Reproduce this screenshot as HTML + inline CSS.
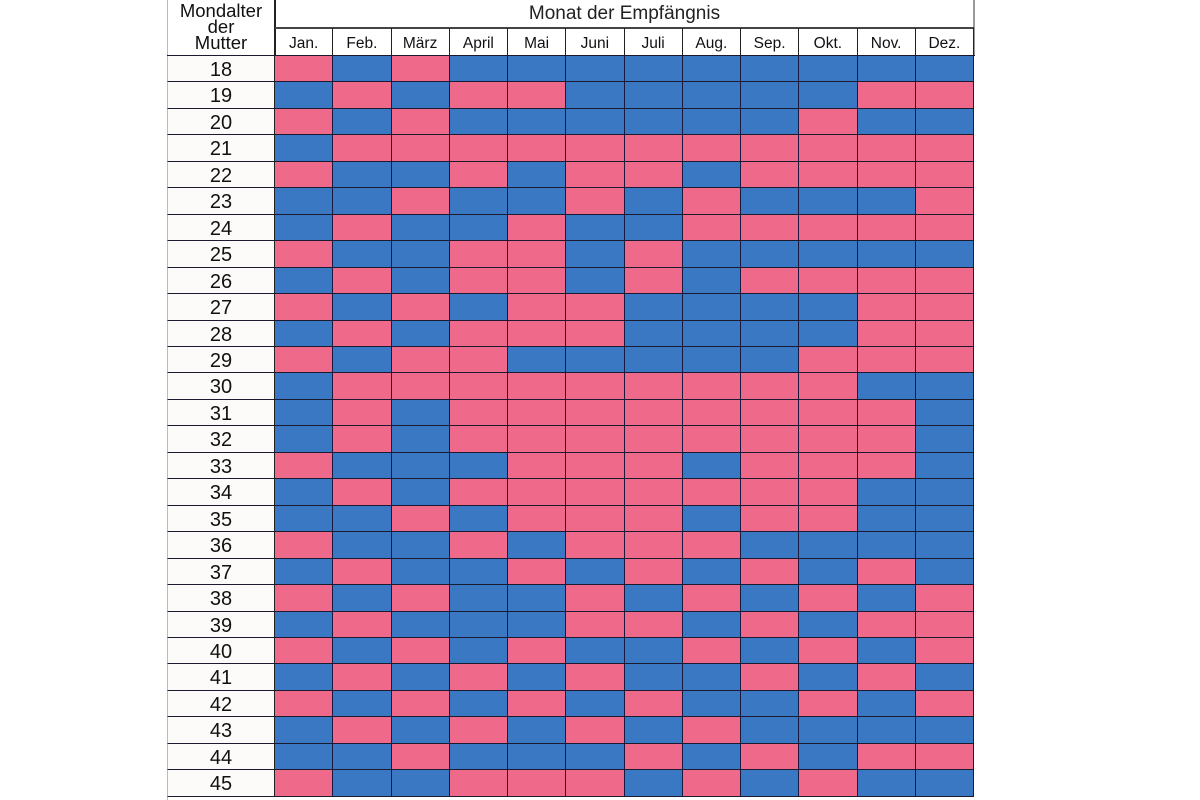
<!DOCTYPE html>
<html><head><meta charset="utf-8"><style>
body{margin:0;width:1200px;height:800px;background:#fff;position:relative;overflow:hidden;font-family:"Liberation Sans",sans-serif;color:#111}
.a{position:absolute}
#g{position:absolute;left:167px;top:55px;width:808px;display:grid;grid-template-columns:108px repeat(12,58.25px);grid-auto-rows:26.46px;border-top:1.5px solid #1a1a2e}
#g div{box-sizing:border-box;border-bottom:1.5px solid #1a1a30;border-right:1.3px solid #1a1a40}
#g .n{background:#fdfafa;text-align:center;font-size:20px;line-height:28px;border-right:1.5px solid #222;border-left:1px solid #bbb}
#g .p{background:#ef6a8a}
#g .b{background:#3b78c3}
.m{position:absolute;top:28px;height:27px;width:58.25px;text-align:center;font-size:15.5px;line-height:32px;box-sizing:border-box;border-right:1.3px solid #222}
</style></head><body>
<div class="a" style="left:167px;top:0;width:1px;height:800px;background:#bbb"></div>
<div class="a" style="left:274px;top:0;width:1.5px;height:56px;background:#222"></div>
<div class="a" style="left:973px;top:0;width:1.5px;height:56px;background:#999"></div>
<div class="a" style="left:275px;top:27px;width:699px;height:1.5px;background:#444"></div>
<div class="a" style="left:167px;top:3px;width:108px;text-align:center;font-size:18.5px;line-height:16px">Mondalter<br>der<br>Mutter</div>
<div class="a" style="left:275px;top:4px;width:699px;text-align:center;font-size:19px;line-height:20px;color:#222">Monat der Empfängnis</div>
<div class="m" style="left:275px">Jan.</div>
<div class="m" style="left:333.25px">Feb.</div>
<div class="m" style="left:391.5px">März</div>
<div class="m" style="left:449.75px">April</div>
<div class="m" style="left:508px">Mai</div>
<div class="m" style="left:566.25px">Juni</div>
<div class="m" style="left:624.5px">Juli</div>
<div class="m" style="left:682.75px">Aug.</div>
<div class="m" style="left:741px">Sep.</div>
<div class="m" style="left:799.25px">Okt.</div>
<div class="m" style="left:857.5px">Nov.</div>
<div class="m" style="left:915.75px">Dez.</div>
<div id="g">
<div class="n">18</div><div class="p"></div><div class="b"></div><div class="p"></div><div class="b"></div><div class="b"></div><div class="b"></div><div class="b"></div><div class="b"></div><div class="b"></div><div class="b"></div><div class="b"></div><div class="b"></div>
<div class="n">19</div><div class="b"></div><div class="p"></div><div class="b"></div><div class="p"></div><div class="p"></div><div class="b"></div><div class="b"></div><div class="b"></div><div class="b"></div><div class="b"></div><div class="p"></div><div class="p"></div>
<div class="n">20</div><div class="p"></div><div class="b"></div><div class="p"></div><div class="b"></div><div class="b"></div><div class="b"></div><div class="b"></div><div class="b"></div><div class="b"></div><div class="p"></div><div class="b"></div><div class="b"></div>
<div class="n">21</div><div class="b"></div><div class="p"></div><div class="p"></div><div class="p"></div><div class="p"></div><div class="p"></div><div class="p"></div><div class="p"></div><div class="p"></div><div class="p"></div><div class="p"></div><div class="p"></div>
<div class="n">22</div><div class="p"></div><div class="b"></div><div class="b"></div><div class="p"></div><div class="b"></div><div class="p"></div><div class="p"></div><div class="b"></div><div class="p"></div><div class="p"></div><div class="p"></div><div class="p"></div>
<div class="n">23</div><div class="b"></div><div class="b"></div><div class="p"></div><div class="b"></div><div class="b"></div><div class="p"></div><div class="b"></div><div class="p"></div><div class="b"></div><div class="b"></div><div class="b"></div><div class="p"></div>
<div class="n">24</div><div class="b"></div><div class="p"></div><div class="b"></div><div class="b"></div><div class="p"></div><div class="b"></div><div class="b"></div><div class="p"></div><div class="p"></div><div class="p"></div><div class="p"></div><div class="p"></div>
<div class="n">25</div><div class="p"></div><div class="b"></div><div class="b"></div><div class="p"></div><div class="p"></div><div class="b"></div><div class="p"></div><div class="b"></div><div class="b"></div><div class="b"></div><div class="b"></div><div class="b"></div>
<div class="n">26</div><div class="b"></div><div class="p"></div><div class="b"></div><div class="p"></div><div class="p"></div><div class="b"></div><div class="p"></div><div class="b"></div><div class="p"></div><div class="p"></div><div class="p"></div><div class="p"></div>
<div class="n">27</div><div class="p"></div><div class="b"></div><div class="p"></div><div class="b"></div><div class="p"></div><div class="p"></div><div class="b"></div><div class="b"></div><div class="b"></div><div class="b"></div><div class="p"></div><div class="p"></div>
<div class="n">28</div><div class="b"></div><div class="p"></div><div class="b"></div><div class="p"></div><div class="p"></div><div class="p"></div><div class="b"></div><div class="b"></div><div class="b"></div><div class="b"></div><div class="p"></div><div class="p"></div>
<div class="n">29</div><div class="p"></div><div class="b"></div><div class="p"></div><div class="p"></div><div class="b"></div><div class="b"></div><div class="b"></div><div class="b"></div><div class="b"></div><div class="p"></div><div class="p"></div><div class="p"></div>
<div class="n">30</div><div class="b"></div><div class="p"></div><div class="p"></div><div class="p"></div><div class="p"></div><div class="p"></div><div class="p"></div><div class="p"></div><div class="p"></div><div class="p"></div><div class="b"></div><div class="b"></div>
<div class="n">31</div><div class="b"></div><div class="p"></div><div class="b"></div><div class="p"></div><div class="p"></div><div class="p"></div><div class="p"></div><div class="p"></div><div class="p"></div><div class="p"></div><div class="p"></div><div class="b"></div>
<div class="n">32</div><div class="b"></div><div class="p"></div><div class="b"></div><div class="p"></div><div class="p"></div><div class="p"></div><div class="p"></div><div class="p"></div><div class="p"></div><div class="p"></div><div class="p"></div><div class="b"></div>
<div class="n">33</div><div class="p"></div><div class="b"></div><div class="b"></div><div class="b"></div><div class="p"></div><div class="p"></div><div class="p"></div><div class="b"></div><div class="p"></div><div class="p"></div><div class="p"></div><div class="b"></div>
<div class="n">34</div><div class="b"></div><div class="p"></div><div class="b"></div><div class="p"></div><div class="p"></div><div class="p"></div><div class="p"></div><div class="p"></div><div class="p"></div><div class="p"></div><div class="b"></div><div class="b"></div>
<div class="n">35</div><div class="b"></div><div class="b"></div><div class="p"></div><div class="b"></div><div class="p"></div><div class="p"></div><div class="p"></div><div class="b"></div><div class="p"></div><div class="p"></div><div class="b"></div><div class="b"></div>
<div class="n">36</div><div class="p"></div><div class="b"></div><div class="b"></div><div class="p"></div><div class="b"></div><div class="p"></div><div class="p"></div><div class="p"></div><div class="b"></div><div class="b"></div><div class="b"></div><div class="b"></div>
<div class="n">37</div><div class="b"></div><div class="p"></div><div class="b"></div><div class="b"></div><div class="p"></div><div class="b"></div><div class="p"></div><div class="b"></div><div class="p"></div><div class="b"></div><div class="p"></div><div class="b"></div>
<div class="n">38</div><div class="p"></div><div class="b"></div><div class="p"></div><div class="b"></div><div class="b"></div><div class="p"></div><div class="b"></div><div class="p"></div><div class="b"></div><div class="p"></div><div class="b"></div><div class="p"></div>
<div class="n">39</div><div class="b"></div><div class="p"></div><div class="b"></div><div class="b"></div><div class="b"></div><div class="p"></div><div class="p"></div><div class="b"></div><div class="p"></div><div class="b"></div><div class="p"></div><div class="p"></div>
<div class="n">40</div><div class="p"></div><div class="b"></div><div class="p"></div><div class="b"></div><div class="p"></div><div class="b"></div><div class="b"></div><div class="p"></div><div class="b"></div><div class="p"></div><div class="b"></div><div class="p"></div>
<div class="n">41</div><div class="b"></div><div class="p"></div><div class="b"></div><div class="p"></div><div class="b"></div><div class="p"></div><div class="b"></div><div class="b"></div><div class="p"></div><div class="b"></div><div class="p"></div><div class="b"></div>
<div class="n">42</div><div class="p"></div><div class="b"></div><div class="p"></div><div class="b"></div><div class="p"></div><div class="b"></div><div class="p"></div><div class="b"></div><div class="b"></div><div class="p"></div><div class="b"></div><div class="p"></div>
<div class="n">43</div><div class="b"></div><div class="p"></div><div class="b"></div><div class="p"></div><div class="b"></div><div class="p"></div><div class="b"></div><div class="p"></div><div class="b"></div><div class="b"></div><div class="b"></div><div class="b"></div>
<div class="n">44</div><div class="b"></div><div class="b"></div><div class="p"></div><div class="b"></div><div class="b"></div><div class="b"></div><div class="p"></div><div class="b"></div><div class="p"></div><div class="b"></div><div class="p"></div><div class="p"></div>
<div class="n">45</div><div class="p"></div><div class="b"></div><div class="b"></div><div class="p"></div><div class="p"></div><div class="p"></div><div class="b"></div><div class="p"></div><div class="b"></div><div class="p"></div><div class="b"></div><div class="b"></div>
</div>
</body></html>
